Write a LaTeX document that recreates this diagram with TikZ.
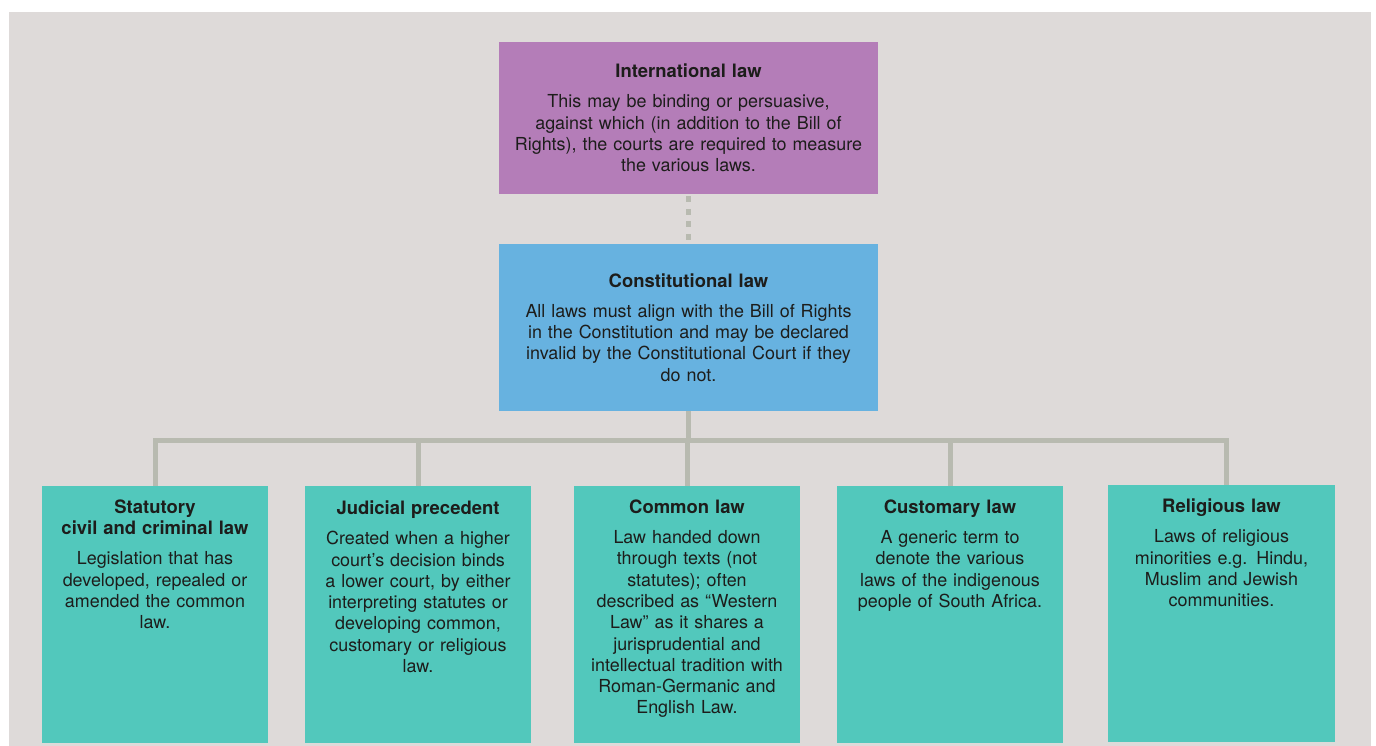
\documentclass[tikz,border=0pt]{standalone}
\usepackage{fontspec}
\setmainfont{TeX Gyre Heros}
\usetikzlibrary{positioning}

\definecolor{pagegray}{HTML}{DEDAD9}
\definecolor{intlpurple}{HTML}{B47DB8}
\definecolor{constblue}{HTML}{67B2E0}
\definecolor{lawteal}{HTML}{52C8BC}
\definecolor{linkgray}{HTML}{B8BAB0}
\definecolor{inkdark}{HTML}{1D1D1B}

\newcommand\lawtitle[1]{{\bfseries\fontsize{10.5}{12.1}\selectfont #1}\\[5pt]}

\begin{document}
\begin{tikzpicture}[x=0.02cm,y=-0.02cm,
                wide box/.style={rectangle,inner sep=0pt,minimum width=7.58cm,text width=7cm,align=center,text=inkdark,font=\fontsize{10.2}{12.1}\selectfont},
                law box/.style={rectangle,inner sep=0pt,minimum width=4.54cm,minimum height=5.14cm,fill=lawteal},
                law text/.style={anchor=north,inner sep=0pt,text width=4.4cm,align=center,text=inkdark,font=\fontsize{10.2}{12.1}\selectfont},
                link/.style={draw=linkgray,line width=0.1cm},
                ]
                % page and panel
                \fill[white] (0,0) rectangle (1376,746);
                \fill[pagegray] (9,12) rectangle (1371,746);

                \node[wide box,fill=intlpurple,minimum height=3.04cm] (intl) at (688.5,118) {\lawtitle{International law}This may be binding or persuasive,\\ against which (in addition to the Bill of\\ Rights), the courts are required to measure\\ the various laws.};
                \node[wide box,fill=constblue,minimum height=3.34cm] (const) at (688.5,327.5) {\lawtitle{Constitutional law}All laws must align with the Bill of Rights\\ in the Constitution and may be declared\\ invalid by the Constitutional Court if they\\ do not.};

                % lower row
                \node[law box] (stat) at (155,614.5) {};
                \node[law box] (jud) at (418,614.5) {};
                \node[law box] (com) at (687,614.5) {};
                \node[law box] (cust) at (950,614.5) {};
                \node[law box] (rel) at (1221.5,613.5) {};

                \node[law text] (stat-t) at ([yshift=-0.28cm]stat.north) {\lawtitle{Statutory\\ civil and criminal law}Legislation that has\\ developed, repealed or\\ amended the common\\ law.};
                \node[law text] (jud-t) at ([yshift=-0.3cm]jud.north) {\lawtitle{Judicial precedent}Created when a higher\\ court’s decision binds\\ a lower court, by either\\ interpreting statutes or\\ developing common,\\ customary or religious\\ law.};
                \node[law text] (com-t) at ([yshift=-0.28cm]com.north) {\lawtitle{Common law}Law handed down\\ through texts (not\\ statutes); often\\ described as “Western\\ Law” as it shares a\\ jurisprudential and\\ intellectual tradition with\\ Roman-Germanic and\\ English Law.};
                \node[law text] (cust-t) at ([yshift=-0.28cm]cust.north) {\lawtitle{Customary law}A generic term to\\ denote the various\\ laws of the indigenous\\ people of South Africa.};
                \node[law text] (rel-t) at ([yshift=-0.28cm]rel.north) {\lawtitle{Religious law}Laws of religious\\ minorities e.g. Hindu,\\ Muslim and Jewish\\ communities.};

                % connectors
                \draw[link,dash pattern=on 0.12cm off 0.13cm] ([yshift=-0.04cm]intl.south) -- (const.north);
                \coordinate (hub) at ([yshift=-0.58cm]const.south);
                \draw[link] (const.south) -- (hub);
                \foreach \b in {stat,jud,com,cust}
                    \draw[link] (hub) -| (\b.north);
                \draw[link] (hub) -| ([xshift=0.1cm]rel.north);
            \end{tikzpicture}
\end{document}
